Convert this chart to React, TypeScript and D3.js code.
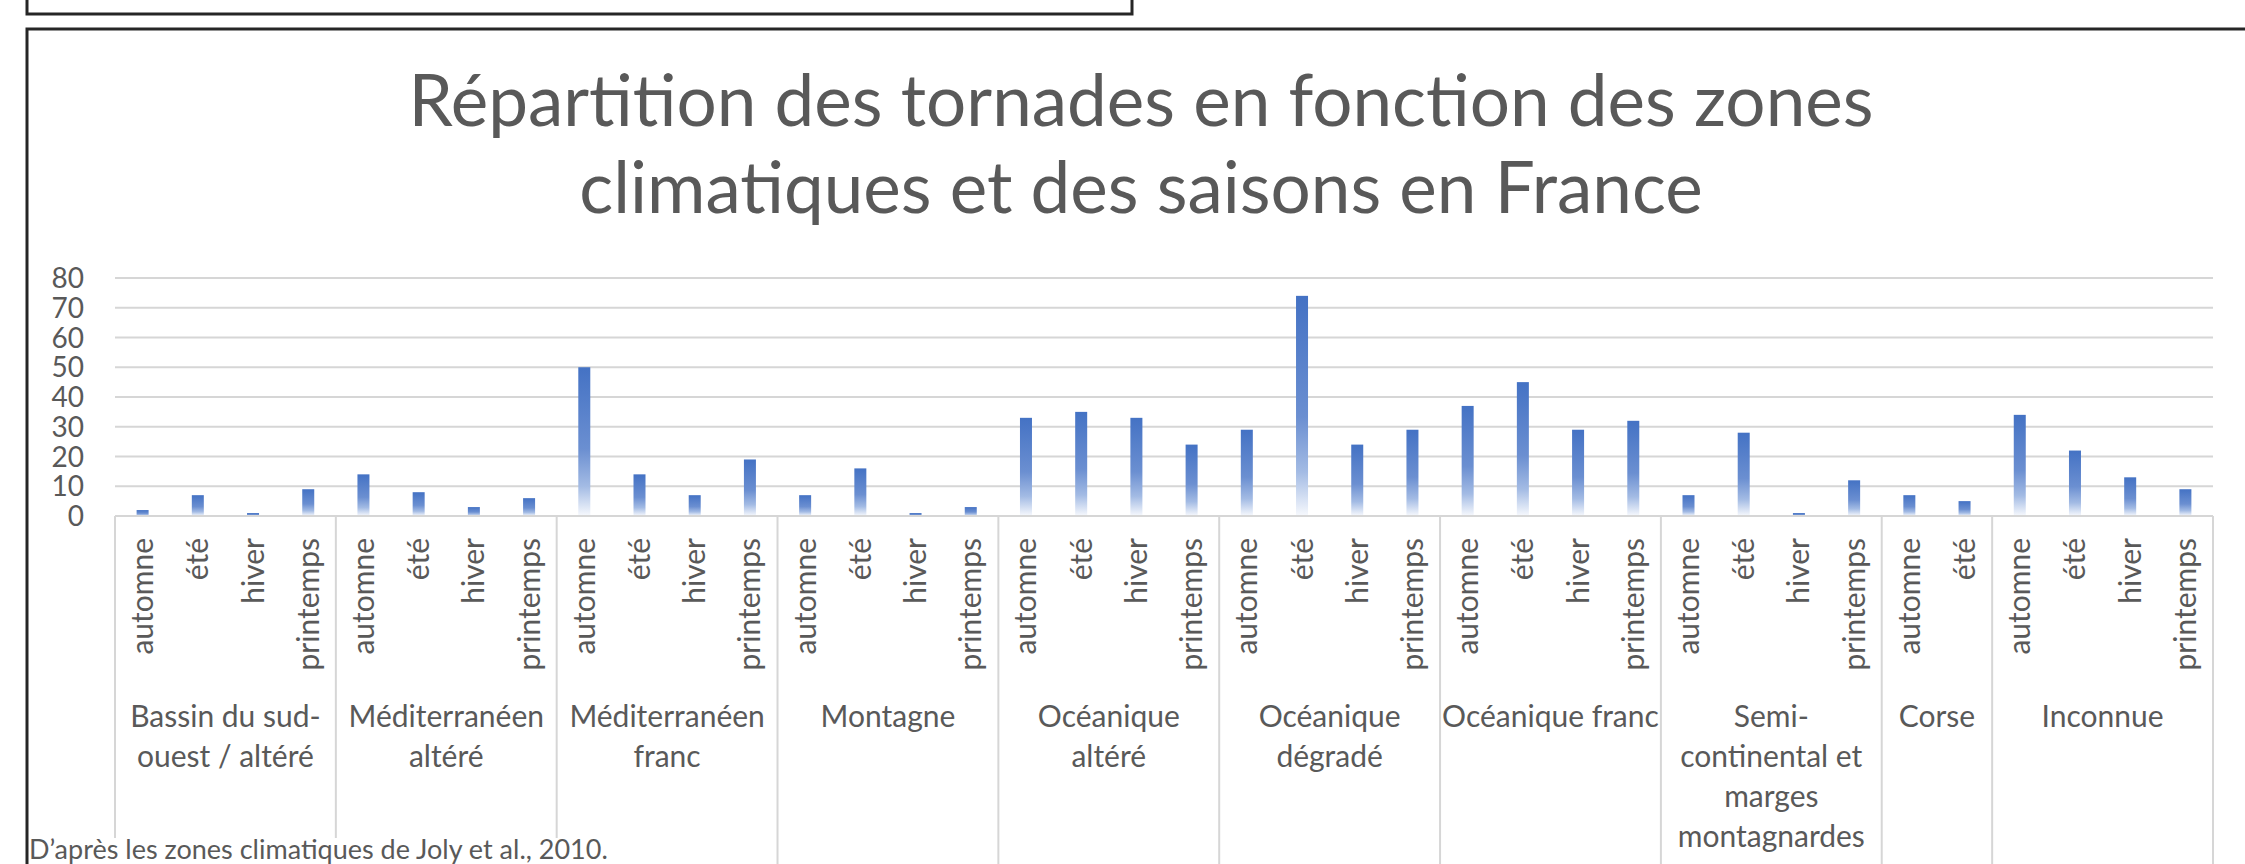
// @ts-nocheck
import React, { useEffect, useRef } from 'react';
import * as d3 from 'd3';

const seasons = ['automne', 'été', 'hiver', 'printemps'];

const zoneLabels = [
  ['Bassin du sud-', 'ouest / altéré'],
  ['Méditerranéen', 'altéré'],
  ['Méditerranéen', 'franc'],
  ['Montagne'],
  ['Océanique', 'altéré'],
  ['Océanique', 'dégradé'],
  ['Océanique franc'],
  ['Semi-', 'continental et', 'marges', 'montagnardes'],
  ['Corse'],
  ['Inconnue'],
];

// tornades par saison (automne, été, hiver, printemps)
const bassinSudOuest = [2, 7, 1, 9];
const mediterraneenAltere = [14, 8, 3, 6];
const mediterraneenFranc = [50, 14, 7, 19];
const montagne = [7, 16, 1, 3];
const oceaniqueAltere = [33, 35, 33, 24];
const oceaniqueDegrade = [29, 74, 24, 29];
const oceaniqueFranc = [37, 45, 29, 32];
const semiContinental = [7, 28, 1, 12];
const corse = [7, 5];
const inconnue = [34, 22, 13, 9];

const zoneValues = [
  bassinSudOuest, mediterraneenAltere, mediterraneenFranc, montagne,
  oceaniqueAltere, oceaniqueDegrade, oceaniqueFranc, semiContinental, corse, inconnue,
];

const yTicks = [0, 10, 20, 30, 40, 50, 60, 70, 80];

const titleLines = [
  'Répartition des tornades en fonction des zones',
  'climatiques et des saisons en France',
];
const footnote = 'D’après les zones climatiques de Joly et al., 2010.';

const FONT = 'Lato, "Open Sans", sans-serif';
const TEXT = '#595959';
const GRID = '#d6d6d6';

export default function App() {
  const svgRef = useRef();

  useEffect(() => {
    const W = 2245;
    const H = 864;
    const left = 115;
    const right = 2213;
    const y0 = 516;
    const yTop = 278;

    // flatten into one row per bar
    const rows = [];
    const groups = [];
    zoneValues.forEach((vals, zi) => {
      const start = rows.length;
      vals.forEach((v, si) => rows.push({ zone: zi, season: seasons[si], value: v, key: rows.length }));
      groups.push({ zone: zi, start, end: rows.length });
    });

    const svg = d3.select(svgRef.current)
      .attr('width', W)
      .attr('height', H)
      .style('font-family', FONT);
    svg.selectAll('*').remove();

    svg.append('rect').attr('width', W).attr('height', H).attr('fill', '#fff');

    const x = d3.scaleBand().domain(rows.map(d => d.key)).range([left, right]).padding(0);
    const y = d3.scaleLinear().domain([0, 80]).range([y0, yTop]);
    const bw = 12;

    const grad = svg.append('defs').append('linearGradient')
      .attr('id', 'barGrad').attr('x1', 0).attr('y1', 0).attr('x2', 0).attr('y2', 1);
    [[0, '#4472c4'], [0.55, '#6b8fd1'], [0.8, '#a3bbe4'], [1, '#f7f9fd']].forEach(([o, c]) => {
      grad.append('stop').attr('offset', o).attr('stop-color', c);
    });

    // outer frames
    svg.append('rect')
      .attr('x', 27).attr('y', -20).attr('width', 1105).attr('height', 34)
      .attr('fill', 'none').attr('stroke', '#262626').attr('stroke-width', 3);
    svg.append('rect')
      .attr('x', 27).attr('y', 29).attr('width', 2240).attr('height', 900)
      .attr('fill', 'none').attr('stroke', '#262626').attr('stroke-width', 3);

    // title
    const title = svg.append('text')
      .attr('x', 1141).attr('text-anchor', 'middle')
      .attr('fill', TEXT).style('font-size', '71px');
    titleLines.forEach((t, i) => {
      title.append('tspan').attr('x', 1141).attr('y', 126 + i * 87).text(t);
    });

    // gridlines
    svg.append('g').selectAll('line')
      .data(yTicks.filter(t => t > 0))
      .join('line')
      .attr('x1', left).attr('x2', right)
      .attr('y1', d => y(d)).attr('y2', d => y(d))
      .attr('stroke', GRID).attr('stroke-width', 2);

    svg.append('g').selectAll('text')
      .data(yTicks)
      .join('text')
      .attr('x', 84).attr('y', d => y(d)).attr('dy', '0.36em')
      .attr('text-anchor', 'end').attr('fill', TEXT)
      .style('font-size', '28px')
      .text(d => d);

    // bars
    svg.append('g').selectAll('rect')
      .data(rows)
      .join('rect')
      .attr('x', d => x(d.key) + x.bandwidth() / 2 - bw / 2)
      .attr('y', d => y(d.value))
      .attr('width', bw)
      .attr('height', d => y0 - y(d.value))
      .attr('fill', 'url(#barGrad)');

    // category axis
    svg.append('line')
      .attr('x1', left).attr('x2', right).attr('y1', y0).attr('y2', y0)
      .attr('stroke', GRID).attr('stroke-width', 2);

    const bounds = [groups[0].start].concat(groups.map(g => g.end));
    svg.append('g').selectAll('line')
      .data(bounds)
      .join('line')
      .attr('x1', d => (d < rows.length ? x(d) : right))
      .attr('x2', d => (d < rows.length ? x(d) : right))
      .attr('y1', y0).attr('y2', H)
      .attr('stroke', GRID).attr('stroke-width', 2);

    svg.append('g').selectAll('text')
      .data(rows)
      .join('text')
      .attr('transform', d => `translate(${x(d.key) + x.bandwidth() / 2},538) rotate(-90)`)
      .attr('dy', '0.35em')
      .attr('text-anchor', 'end')
      .attr('fill', TEXT)
      .style('font-size', '30px')
      .text(d => d.season);

    const gl = svg.append('g').selectAll('text')
      .data(groups)
      .join('text')
      .attr('text-anchor', 'middle')
      .attr('fill', TEXT)
      .style('font-size', '30px');
    gl.each(function (g) {
      const cx = (x(g.start) + (g.end < rows.length ? x(g.end) : right)) / 2;
      zoneLabels[g.zone].forEach((line, i) => {
        d3.select(this).append('tspan').attr('x', cx).attr('y', 727 + i * 40).text(line);
      });
    });

    // footnote box
    svg.append('rect')
      .attr('x', 29).attr('y', 838).attr('width', 590).attr('height', 30)
      .attr('fill', '#fff');
    svg.append('text')
      .attr('x', 29).attr('y', 859)
      .attr('fill', TEXT)
      .style('font-size', '27px')
      .text(footnote);
  }, []);

  return <div style={{ position: 'absolute', left: 0, top: 0 }}>
    <svg ref={svgRef} style={{ display: 'block' }} />
  </div>;
}
